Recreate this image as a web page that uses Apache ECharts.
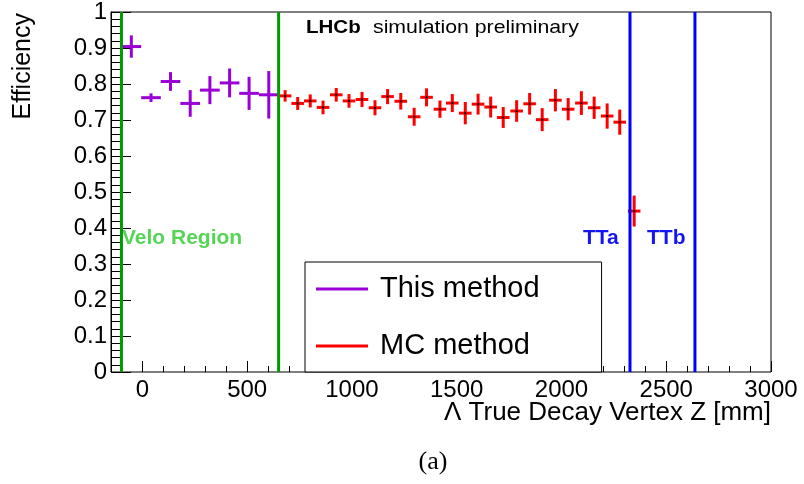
<!DOCTYPE html>
<html>
<head>
<meta charset="utf-8">
<script src="https://cdn.jsdelivr.net/npm/echarts@6/dist/echarts.min.js"></script>
<style>
	html, body { margin: 0; padding: 0; background: #fff; }
	#chart { width: 804px; height: 484px; }
</style>
</head>
<body>
<div id="chart"></div>
<script>
// "This method" (purple), bin centres in mm
const thisZ = [-53, 41, 134, 228, 322, 416, 509, 603];
const thisEff = [0.904, 0.762, 0.807, 0.746, 0.783, 0.803, 0.774, 0.770];
const thisErr = [0.031, 0.012, 0.026, 0.037, 0.039, 0.040, 0.046, 0.066];
const thisHalfBin = 46.9;

// "MC method" (red)
const mcZ = [681, 741, 801, 862, 925, 986, 1048, 1110, 1170, 1233, 1297, 1356, 1420, 1479,
	1541, 1602, 1662, 1722, 1786, 1848, 1908, 1971, 2032, 2095, 2156, 2218, 2278, 2347];
const mcEff = [0.767, 0.746, 0.753, 0.735, 0.770, 0.753, 0.757, 0.734, 0.765, 0.752, 0.709, 0.763, 0.730, 0.747,
	0.719, 0.744, 0.736, 0.707, 0.725, 0.745, 0.701, 0.755, 0.730, 0.747, 0.734, 0.711, 0.694, 0.447];
const mcErr = [0.016, 0.018, 0.018, 0.019, 0.019, 0.019, 0.021, 0.021, 0.021, 0.023, 0.025, 0.025, 0.024, 0.025,
	0.031, 0.029, 0.029, 0.029, 0.030, 0.030, 0.032, 0.031, 0.031, 0.033, 0.031, 0.035, 0.035, 0.043];
const mcHalfBin = 30;

// detector boundaries (mm)
const veloLines = [-100, 650];
const ttLines = [2327, 2637];

const xMin = -150, xMax = 3000;
const yMin = 0, yMax = 1;

const font = 'Liberation Sans, Arial, Helvetica, sans-serif';
const purple = '#9a00d6';
const red = '#ff0000';

// grid geometry: main frame 111..771, second grid starts where z = 0
const frame = {left: 111, right: 33, top: 10, bottom: 112};
const zeroLeft = frame.left + (0 - xMin) / (xMax - xMin) * (804 - frame.left - frame.right);

function renderCross(params, api){
	let z = api.value(0), eff = api.value(1), hw = api.value(2), err = api.value(3);
	let a = api.coord([z - hw, eff]), b = api.coord([z + hw, eff]);
	let c = api.coord([z, eff - err]), d = api.coord([z, eff + err]);
	let style = {stroke: api.visual('color'), lineWidth: 3};
	let children = [
		{type: 'line', shape: {x1: a[0], y1: a[1], x2: b[0], y2: b[1]}, style: style},
		{type: 'line', shape: {x1: c[0], y1: c[1], x2: d[0], y2: d[1]}, style: style}
	];
	if(params.seriesName === 'MC method'){
		let m = api.coord([z, eff]);
		children.push({type: 'rect', shape: {x: m[0] - 1, y: m[1] - 1, width: 2, height: 2}, style: {fill: '#000'}});
	}
	return {type: 'group', children: children};
}

function renderVLine(params, api){
	let z = api.value(0);
	let p0 = api.coord([z, yMin]), p1 = api.coord([z, yMax]);
	return {type: 'line', shape: {x1: p0[0], y1: p0[1], x2: p1[0], y2: p1[1]},
		style: {stroke: api.visual('color'), lineWidth: 3}};
}

const chart = echarts.init(document.getElementById('chart'), null, {renderer: 'canvas'});
chart.setOption({
	animation: false,
	backgroundColor: '#fff',
	grid: [
		{left: frame.left, right: frame.right, top: frame.top, bottom: frame.bottom,
			show: true, borderColor: '#000', borderWidth: 1, backgroundColor: 'transparent'},
		{left: zeroLeft, right: frame.right, top: frame.top, bottom: frame.bottom}
	],
	xAxis: [
		{type: 'value', gridIndex: 0, min: xMin, max: xMax, show: false},
		{
			type: 'value', gridIndex: 1, min: 0, max: 3000, interval: 500,
			axisLine: {show: false, onZero: false},
			axisTick: {show: true, inside: true, length: 11, lineStyle: {color: '#000', width: 1}},
			minorTick: {show: true, splitNumber: 5, length: 6, lineStyle: {color: '#000', width: 1}},
			splitLine: {show: false},
			axisLabel: {color: '#000', fontFamily: font, fontSize: 24, margin: 6, formatter: v => String(v)}
		}
	],
	yAxis: [
		{
			type: 'value', gridIndex: 0, min: yMin, max: yMax, interval: 0.1,
			axisLine: {show: true, onZero: false, lineStyle: {color: '#000', width: 1}},
			axisTick: {show: true, inside: true, length: 20, lineStyle: {color: '#000', width: 1}},
			minorTick: {show: true, splitNumber: 5, length: 9, lineStyle: {color: '#000', width: 1}},
			splitLine: {show: false},
			axisLabel: {color: '#000', fontFamily: font, fontSize: 24, margin: 4}
		},
		{type: 'value', gridIndex: 1, min: yMin, max: yMax, show: false}
	],
	legend: {
		orient: 'vertical',
		left: 305,
		top: 262,
		padding: [12, 62, 11, 11],
		itemGap: 27,
		itemWidth: 52,
		itemHeight: 3,
		icon: 'rect',
		backgroundColor: '#fff',
		borderColor: '#000',
		borderWidth: 1,
		borderRadius: 0,
		textStyle: {fontFamily: font, fontSize: 29, color: '#000', lineHeight: 30, padding: [0, 0, 0, 7]},
		data: [
			{name: 'This method', itemStyle: {color: purple}},
			{name: 'MC method', itemStyle: {color: red}}
		]
	},
	graphic: [
		{type: 'text', x: 23, y: 13, rotation: Math.PI / 2,
			style: {text: 'Efficiency', font: `25px ${font}`, fill: '#000', align: 'right', verticalAlign: 'middle'}},
		{type: 'text', x: 771, y: 413,
			style: {text: 'Λ True Decay Vertex Z [mm]', font: `26px ${font}`, fill: '#000', align: 'right', verticalAlign: 'middle'}},
		{type: 'text', x: 306, y: 28, scaleX: 1.08,
			style: {text: 'LHCb', font: `bold 19px ${font}`, fill: '#000', verticalAlign: 'middle'}},
		{type: 'text', x: 373, y: 28, scaleX: 1.12,
			style: {text: 'simulation preliminary', font: `19px ${font}`, fill: '#000', verticalAlign: 'middle'}},
		{type: 'text', x: 122, y: 238,
			style: {text: 'Velo Region', font: `bold 21px ${font}`, fill: '#55d555', verticalAlign: 'middle'}},
		{type: 'text', x: 583, y: 238,
			style: {text: 'TTa', font: `bold 21px ${font}`, fill: '#1414f5', verticalAlign: 'middle'}},
		{type: 'text', x: 647, y: 238,
			style: {text: 'TTb', font: `bold 21px ${font}`, fill: '#1414f5', verticalAlign: 'middle'}},
		{type: 'text', x: 433, y: 462,
			style: {text: '(a)', font: '26px Liberation Serif, DejaVu Serif, serif', fill: '#000', align: 'center', verticalAlign: 'middle'}}
	],
	series: [
		{
			name: 'This method', type: 'custom', xAxisIndex: 0, yAxisIndex: 0,
			itemStyle: {color: purple}, renderItem: renderCross, z: 3,
			data: thisZ.map((z, i) => [z, thisEff[i], thisHalfBin, thisErr[i]])
		},
		{
			name: 'MC method', type: 'custom', xAxisIndex: 0, yAxisIndex: 0,
			itemStyle: {color: red}, renderItem: renderCross, z: 3,
			data: mcZ.map((z, i) => [z, mcEff[i], mcHalfBin, mcErr[i]])
		},
		{
			name: 'velo', type: 'custom', xAxisIndex: 0, yAxisIndex: 0,
			itemStyle: {color: '#009c00'}, renderItem: renderVLine, z: 4,
			data: veloLines.map(z => [z, yMin])
		},
		{
			name: 'tt', type: 'custom', xAxisIndex: 0, yAxisIndex: 0,
			itemStyle: {color: '#0000ff'}, renderItem: renderVLine, z: 4,
			data: ttLines.map(z => [z, yMin])
		}
	]
});
</script>
</body>
</html>
